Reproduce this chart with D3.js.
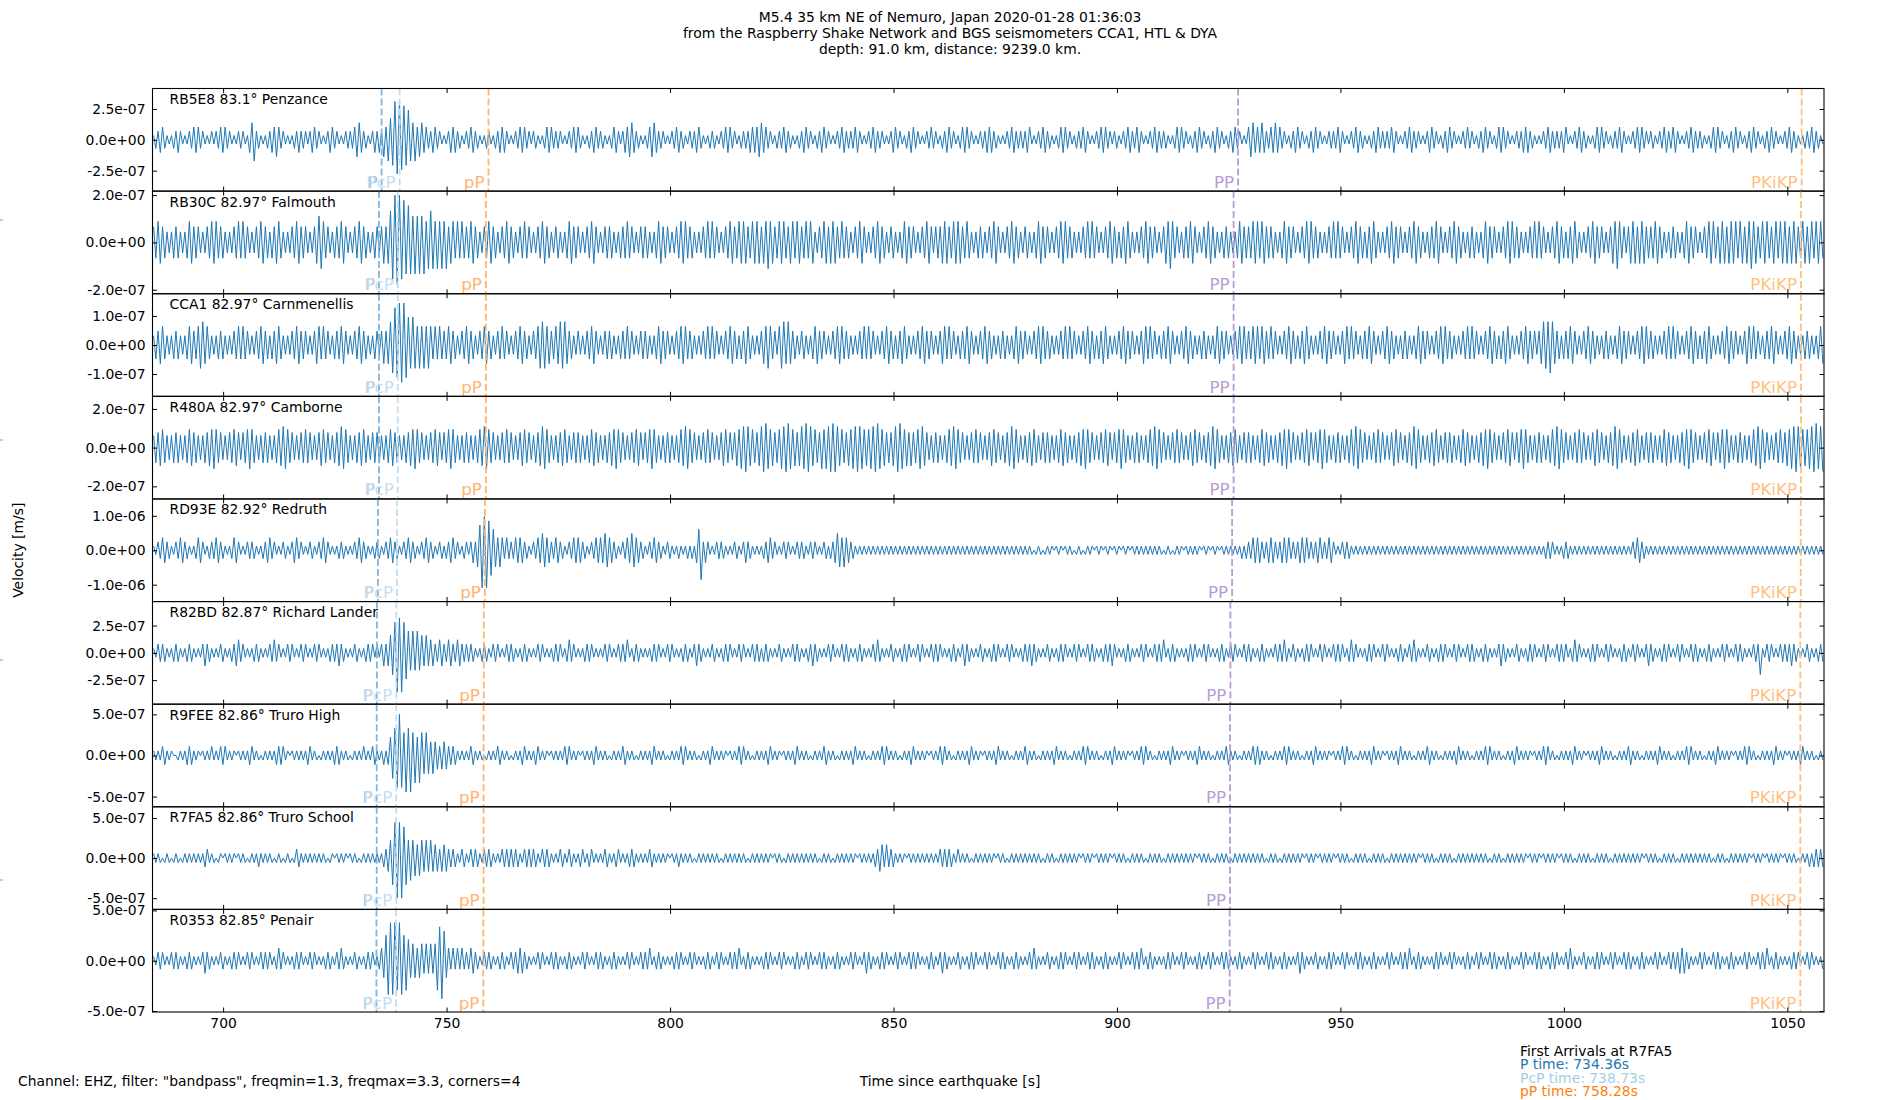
<!DOCTYPE html>
<html>
<head>
<meta charset="utf-8">
<title>M5.4 35 km NE of Nemuro - record section</title>
<script src="https://cdn.jsdelivr.net/npm/d3@7"></script>
<style>
    body { margin: 0; background: #fff; }
    svg text { font-family: "DejaVu Sans", sans-serif; }
</style>
</head>
<body>
<svg id="chart" width="1900" height="1100"></svg>
<script>
// station list, top to bottom
var stations = ['RB5E8', 'RB30C', 'CCA1', 'R480A', 'RD93E', 'R82BD', 'R9FEE', 'R7FA5', 'R0353'];
var distances = ['83.1', '82.97', '82.97', '82.97', '82.92', '82.87', '82.86', '82.86', '82.85'];
var places = ['Penzance', 'Falmouth', 'Carnmenellis', 'Camborne', 'Redruth', 'Richard Lander', 'Truro High', 'Truro School', 'Penair'];

// y limits (symmetric, m/s) and tick values of each panel
var yLimits = [4.16e-7, 2.17e-7, 1.77e-7, 2.65e-7, 1.49e-6, 4.7e-7, 6.24e-7, 6.4e-7, 5.1e-7];
var yTicks = [
    [2.5e-7, 0, -2.5e-7], [2e-7, 0, -2e-7], [1e-7, 0, -1e-7],
    [2e-7, 0, -2e-7], [1e-6, 0, -1e-6], [2.5e-7, 0, -2.5e-7],
    [5e-7, 0, -5e-7], [5e-7, 0, -5e-7], [5e-7, 0, -5e-7]
];

// time axis [s]
var xDomain = [684.2, 1058.2];
var xTickValues = [700, 750, 800, 850, 900, 950, 1000, 1050];

// arrival times per station [s]
var phases = ['P', 'PcP', 'pP', 'PP', 'PKiKP'];
var phaseColors = ['#86b5da', '#c6ddef', '#ffb36e', '#b99bd5', '#ffbf80'];
var timesP = [735.46, 734.87, 734.87, 734.87, 734.64, 734.41, 734.36, 734.36, 734.31];
var timesPcP = [739.50, 739.08, 739.08, 739.08, 738.92, 738.76, 738.73, 738.73, 738.70];
var timespP = [759.38, 758.79, 758.79, 758.79, 758.56, 758.33, 758.28, 758.28, 758.23];
var timesPP = [927.1, 926.1, 926.1, 926.1, 925.76, 925.38, 925.3, 925.3, 925.22];
var timesPKiKP = [1053.2, 1053.05, 1053.05, 1053.05, 1053.0, 1052.9, 1052.9, 1052.9, 1052.9];
var phaseTimes = [timesP, timesPcP, timespP, timesPP, timesPKiKP];

// traces: peak size of each half swing (0.5 s), one row = 50 s, digit * unit = m/s
var digitUnits = [0.345e-7, 0.222e-7, 0.161e-7, 0.156e-7, 0.122e-6, 0.40e-7, 0.556e-7, 0.556e-7, 0.42e-7];
var traces = [
    [
        '1223321112 2321112233 3221112122 3332211122 2113452211 1223343221 1112232221 2332211123 3221112222 3443221123',
        '2324355698 9786754534 4332233221 1123332211 2233221112 2112233321 1122333221 2211123332 2221112233 3211122332',
        '2211123321 2334432211 1234432221 1122332211 2223321112 2211223332 2112222333 3443322112 2233221112 2332211223',
        '3221112233 2222332111 2233222111 2332211223 3221112232 2112233221 1233322111 2223332211 1122332222 2331112233',
        '2211123332 2112223321 1122333221 2211223322 3321112233 2222111233 3221122332 2112233221 1223322111 3443334322',
        '3343322112 2332211223 3221112222 3321112233 2211122332 2222332111 2233222111 2332211223 3221112232 2112233221',
        '1233322111 2223332211 1122332222 2331112233 2211123332 2112223321 1122333221 2211223322 3321112233 2222111233',
        '3221122332 2112233221 1223322111 2233221112 22332211'
    ],
    [
        '3344332223 3322234433 3222334443 3322223343 4332223344 3323344322 2233443332 2234554332 2333443222 3344332223',
        '3234346798 9786765656 5645654545 4534434343 3344332233 4433223344 3322334332 2233443322 3322234433 3222334432',
        '2233332223 3343322233 3322234433 3222334443 3322223343 4332223344 3344443344 4434454433 4443344344 3343442233',
        '4434443343 3322334432 2233443322 3322234433 3222334432 3334443344 4433432223 3322334432 2233443322 3322234433',
        '3222334443 3322223343 4332223344 3323344322 2233443332 2234454332 2333443222 3344332223 3322234433 3344434433',
        '3322234433 3222334443 3322223343 4332223344 3323344322 2233443332 2233443322 2333443222 3344332223 3322234433',
        '3222334443 3322223343 4332223344 3323344322 2233443332 2234454332 3444344433 3344332223 3322234433 3222334443',
        '3444344443 4434454433 4443344344 4434443344 34434443'
    ],
    [
        '2334432223 3322234433 4554432223 3322223343 4332223344 3323344322 2233443332 2234434332 2333443222 3344332223',
        '3234345687 9897656545 4545434343 3344332233 4433223344 3322334332 2233443322 3345554433 4455543322 3222334432',
        '2233332223 3343322233 3322234433 3222334443 3322223343 4332223344 3323344322 2234454332 4554543322 3322234433',
        '3222334443 3322223343 4332223344 3323344322 2233443332 2234434332 2333443222 3344332223 3322234433 3222334443',
        '3322223343 4332223344 3323344322 2233443332 2234434332 2333443222 3344332223 3322234433 3222334443 3344434433',
        '4332223344 3323344322 2233443332 2234434332 2333443222 3344332223 3322234433 3222334443 3322223343 4332223344',
        '3323344322 2233443332 3455565433 2333443222 3344332223 3322234433 3222334443 3322223343 4332223344 3323344322',
        '2233443332 2234434332 2333443222 3344332223 33222344'
    ],
    [
        '4556654445 5544456655 4445566765 5444556654 5567654445 5544456677 6554445565 5444566554 4556776544 4556654455',
        '5544456655 4445566765 5444556654 5567654445 5544456677 6554445565 5444566554 4556776544 4556654455 5544456655',
        '4445566765 5444556654 5567654445 5544456677 6554445565 5444566554 5667787665 5678876655 6778876656 7788766557',
        '6778887665 5667787766 6778876655 5678876656 5567765445 5544456677 6554445565 5444566554 4556776544 4556654455',
        '5544456655 4445566765 5444556654 5567654445 5544456677 6554445565 5444566554 4556776544 4556654455 5544456655',
        '4445566765 5444556654 5567654445 5544456677 6554445565 5444566554 4556776544 4556654455 5544456655 4445566765',
        '5444556654 5567654445 5544456677 6554445565 5444566554 4556776544 4556654455 5544456655 4445566765 5444556654',
        '5567654445 5544456677 6554445565 5667787766 67788778'
    ],
    [
        '1122332211 2233221112 3321122233 2211123321 1122221112 2332211122 1123322111 2211223321 1112221111 2233221112',
        '2211223322 1122332211 2233221122 1223322112 2123246989 7654343232 2233332211 2233443322 3322112233 3322112233',
        '3344332211 2233443322 1122332211 2211121112 1213572321 1122221111 2211232211 1112233221 1122211122 2211222111',
        '2212234434 3322111111 1111111111 1111111111 1111111111 1111111111 1111111111 1111111111 1111111111 1111011101',
        '1110111011 1101110111 1011101110 1110111011 1111111111 1101110111 1011111110 1110111011 1111111212 2233332223',
        '3322233332 2223333222 2332223321 1122221111 1111111111 1111111111 1111111111 1111111111 1111111111 1111111111',
        '1111111111 1111111111 1112222111 1222111111 1111111111 1111111111 1122332211 1111111111 1111111111 1111111111',
        '1111111111 1111111111 1111111111 1111111111 11111111'
    ],
    [
        '1122221112 2211122211 1123221111 2211122332 2111122211 1122322111 2221112221 1122211112 2223221111 2211122221',
        '2123234579 8976545454 4343332233 2233223322 2222111222 1122211122 2211122211 1122211112 2221123221 1112222111',
        '1122211122 2231122211 1112222111 2221111222 1123221111 2211122221 1122211122 2212221111 2211112222 1112232211',
        '1122211122 2211122211 1122321111 2211122221 1122211122 2221111222 1123221111 2211122221 1122211112 2223221111',
        '2211122221 1122211122 2211122223 2111122211 1122211122 2231122211 1112222111 2221111222 1122211122 2211122211',
        '1122223211 2211122221 1122211122 2221123221 1112222111 2221111222 1122321111 2211122221 1122211122 2211122211',
        '1123221111 2211122221 1122211122 2221123221 1112222111 2221111222 1122211123 2211122221 1122211122 2211122211',
        '1122211122 2211112225 1122211122 2223221111 22111222'
    ],
    [
        '1111221110 0111122211 1011112111 2221111011 1112211101 1111122221 1011111112 2111011111 1222111101 1111211122',
        '1112124567 9758685646 5454343323 3322221111 1122111101 1111221111 0111122111 1221111011 1111222111 1011111221',
        '1111011111 2211110111 1112211111 0111112221 1111011112 2111111011 1122211101 1111122111 1011111221 1111011111',
        '2211110111 1112211111 0111112221 1111011112 2111111011 1122211101 1111122111 1011111221 1111011111 2211110111',
        '1112211111 0111112221 1111011112 2111111011 1122211101 1111122111 1011111221 1111011111 2211110111 1122221111',
        '0111112221 1111011112 2111111011 1122211101 1111122111 1011111221 1111011111 2211110111 1112211111 0111112221',
        '1111011112 2111111011 1122211101 1111122111 1011111221 1111011111 2211110111 1112211111 0111112221 1111011112',
        '2111111011 1122211101 1111122111 1011111221 11110111'
    ],
    [
        '1111011101 1101111111 1112211101 1011111011 1101111211 1111011101 1101221111 1111111101 1011111011 1101111111',
        '1112234689 8976454434 4343433323 3322221122 1122221122 2211112222 2222112222 2211222211 1122112211 1221122111',
        '1122111221 1112221111 1122111111 1011121111 1101111111 1111011111 1111110111 1111111011 1101111111 1111111101',
        '1111011111 1111101111 1112233232 2211111011 1111111111 1122222211 2111110111 1111111011 1101111111 1111111101',
        '1111011111 1111101111 1011111110 1111110111 1111011111 1101111111 1111111011 1111011111 1101111111 1111111101',
        '1111011111 1111101111 1011111110 1111110111 1111011111 1101111111 1111111011 1111011111 1101111111 1111111101',
        '1111011111 1111101111 1011111110 1111110111 1111011111 1101111111 1111111011 1111011111 1101111111 1111111101',
        '1111011111 1111101111 1011111110 1111110111 12122222'
    ],
    [
        '1122211122 2211122211 1123221111 2211122221 1122211122 2221123221 1112222111 2221111222 1122321111 2211122221',
        '1234689897 9867544434 4343434789 7432323232 2233221122 2211122211 2223332211 1122211122 2211122211 1122211122',
        '2211122211 1122211122 2231122211 1112222111 2221111222 1122211122 2231122211 1112222111 2221111222 1122211122',
        '2211122211 1122211123 2211122221 1122211122 2221111222 1123221111 2211122221 1122211122 2211122211 1122321111',
        '2211122221 1122211122 2211122211 1122211122 2231122211 1112222111 2221111222 1122211122 2211122211 1122211122',
        '2211122211 1123221111 2211122221 1122211122 2211122211 1122211122 2231122211 1112222111 2221111222 1122211122',
        '2211122211 1122211122 2211122221 1122321111 2211122221 1122211122 2211122211 1122211122 2223332211 1122211122',
        '2211122211 1122211122 2231122211 1112222111 22211112'
    ]
];

// title and notes
var titleLines = [
    'M5.4 35 km NE of Nemuro, Japan 2020-01-28 01:36:03',
    'from the Raspberry Shake Network and BGS seismometers CCA1, HTL & DYA',
    'depth: 91.0 km, distance: 9239.0 km.'
];
var noteText = 'Channel: EHZ, filter: "bandpass", freqmin=1.3, freqmax=3.3, corners=4';
var arrivalLines = ['First Arrivals at R7FA5', 'P time: 734.36s', 'PcP time: 738.73s', 'pP time: 758.28s'];
var arrivalColors = ['#000', '#1f77b4', '#a6cde3', '#ff7f0e'];

var W = 1900, H = 1100;
var plotLeft = 152.5, plotRight = 1824, plotTop = 88.5, plotBottom = 1012;
var panelH = (plotBottom - plotTop) / stations.length;
var tickLen = 4.5;

var svg = d3.select('#chart');
var x = d3.scaleLinear().domain(xDomain).range([plotLeft, plotRight]);

// matplotlib style "%.1e"
function sci(v) {
    return v.toExponential(1).replace(/e([+-])(\d)$/, 'e$10$2');
}

function styleAxis(g) {
    g.select('.domain').remove();
    g.selectAll('line').attr('stroke', '#000').attr('stroke-width', 1);
    g.selectAll('text').attr('font-size', 13.9).attr('font-family', '"DejaVu Sans", sans-serif').attr('fill', '#000');
}

stations.forEach(function (name, i) {
    var y0 = plotTop + i * panelH;
    var y = d3.scaleLinear().domain([-yLimits[i], yLimits[i]]).range([y0 + panelH, y0]);
    var g = svg.append('g');

    // build samples: alternating swings
    var pts = [];
    traces[i].forEach(function (row, j) {
        var s = row.replace(/\s/g, '');
        var t0 = xDomain[0] + j * 50;
        var t1 = Math.min(t0 + 50, xDomain[1]);
        var step = (t1 - t0) / s.length;
        for (var k = 0; k < s.length; k++) {
            var sign = (pts.length % 2) ? -1 : 1;
            pts.push([t0 + (k + 0.5) * step, sign * (+s[k]) * digitUnits[i]]);
        }
    });

    var clipId = 'clip' + i;
    g.append('clipPath').attr('id', clipId)
        .append('rect')
        .attr('x', plotLeft).attr('y', y0)
        .attr('width', plotRight - plotLeft).attr('height', panelH);

    g.append('path')
        .datum(pts)
        .attr('clip-path', 'url(#' + clipId + ')')
        .attr('fill', 'none')
        .attr('stroke', '#1f77b4')
        .attr('stroke-width', 1)
        .attr('d', d3.line().x(function (d) { return x(d[0]); }).y(function (d) { return y(d[1]); }));

    // arrival markers
    phases.forEach(function (ph, p) {
        var tx = x(phaseTimes[p][i]);
        g.append('line')
            .attr('x1', tx).attr('x2', tx)
            .attr('y1', y0).attr('y2', y0 + panelH)
            .attr('stroke', phaseColors[p])
            .attr('stroke-width', 1.8)
            .attr('stroke-dasharray', '7,3');
        g.append('text')
            .attr('x', tx - 4)
            .attr('y', y0 + panelH - 3.5)
            .attr('text-anchor', 'end')
            .attr('font-size', 16.7)
            .attr('fill', phaseColors[p])
            .text(ph);
    });

    // station label
    g.append('text')
        .attr('x', plotLeft + 17)
        .attr('y', y0 + 15.4)
        .attr('font-size', 13.9)
        .attr('fill', '#000')
        .text(name + ' ' + distances[i] + '\u00b0 ' + places[i]);

    // axes, ticks pointing in
    g.append('g')
        .attr('transform', 'translate(' + plotLeft + ',0)')
        .call(d3.axisLeft(y).tickValues(yTicks[i]).tickFormat(sci).tickSize(-tickLen).tickPadding(7))
        .call(styleAxis);
    g.append('g')
        .attr('transform', 'translate(' + plotRight + ',0)')
        .call(d3.axisRight(y).tickValues(yTicks[i]).tickFormat('').tickSize(-tickLen))
        .call(styleAxis);
    g.append('g')
        .attr('transform', 'translate(0,' + y0 + ')')
        .call(d3.axisTop(x).tickValues(xTickValues).tickFormat('').tickSize(-tickLen))
        .call(styleAxis);
    g.append('g')
        .attr('transform', 'translate(0,' + (y0 + panelH) + ')')
        .call(d3.axisBottom(x).tickValues(xTickValues)
            .tickFormat(i === stations.length - 1 ? d3.format('d') : '')
            .tickSize(-tickLen).tickPadding(6))
        .call(styleAxis);

    g.append('rect')
        .attr('x', plotLeft).attr('y', y0)
        .attr('width', plotRight - plotLeft).attr('height', panelH)
        .attr('fill', 'none')
        .attr('stroke', '#000')
        .attr('stroke-width', 1.1);
});

// title
svg.append('g').selectAll('text')
    .data(titleLines)
    .enter().append('text')
    .attr('x', W / 2)
    .attr('y', function (d, i) { return 22 + i * 16; })
    .attr('text-anchor', 'middle')
    .attr('font-size', 13.9)
    .text(function (d) { return d; });

// axis labels and notes
svg.append('text')
    .attr('transform', 'translate(23,' + ((plotTop + plotBottom) / 2) + ') rotate(-90)')
    .attr('text-anchor', 'middle')
    .attr('font-size', 13.9)
    .text('Velocity [m/s]');

svg.append('text')
    .attr('x', W / 2).attr('y', 1086)
    .attr('text-anchor', 'middle')
    .attr('font-size', 13.9)
    .text('Time since earthquake [s]');

svg.append('text')
    .attr('x', 18).attr('y', 1086)
    .attr('font-size', 13.9)
    .text(noteText);

svg.append('g').selectAll('text')
    .data(arrivalLines)
    .enter().append('text')
    .attr('x', 1520)
    .attr('y', function (d, i) { return 1056 + i * 13.4; })
    .attr('font-size', 13.9)
    .attr('fill', function (d, i) { return arrivalColors[i]; })
    .text(function (d) { return d; });

// stray ticks of the hidden figure-wide axis at the left edge
var edgeTicks = [0.2, 0.4, 0.6, 0.8];
var fy = d3.scaleLinear().domain([0, 1]).range([0, H]);
svg.append('g').selectAll('line')
    .data(edgeTicks)
    .enter().append('line')
    .attr('x1', 0).attr('x2', 3)
    .attr('y1', function (d) { return fy(d); })
    .attr('y2', function (d) { return fy(d); })
    .attr('stroke', '#999')
    .attr('stroke-width', 1);
</script>
</body>
</html>
